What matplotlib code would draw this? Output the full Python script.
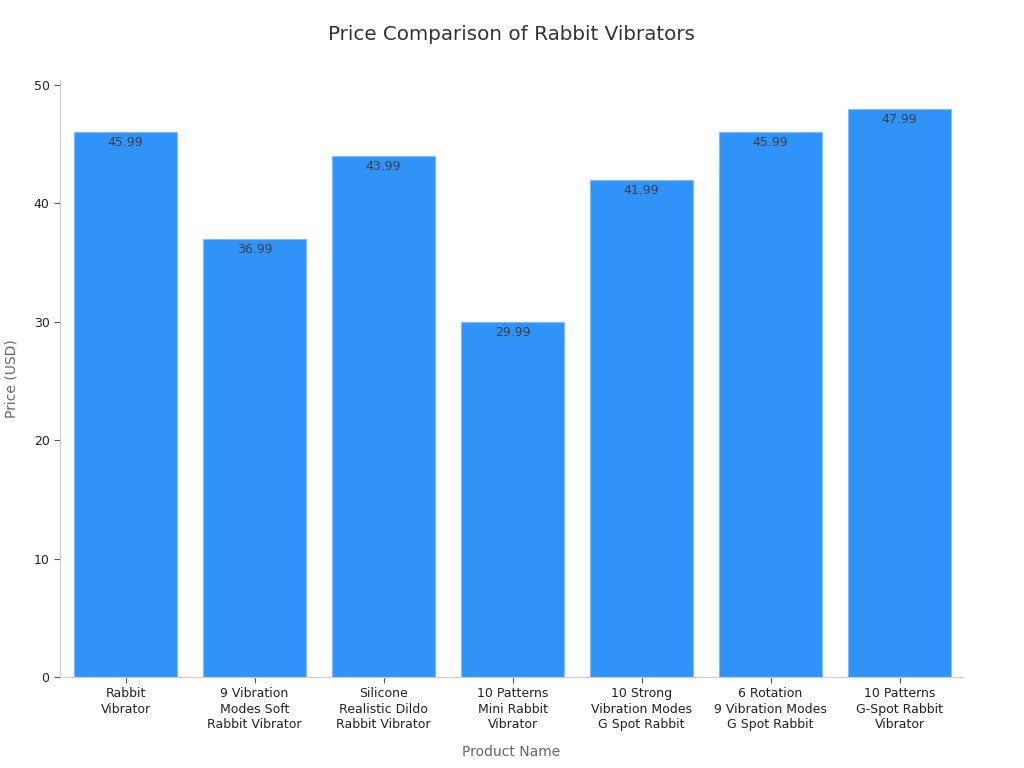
import matplotlib
matplotlib.use('Agg')
import matplotlib.pyplot as plt

# 제품 이름과 가격
products = ['Rabbit\nVibrator', '9 Vibration\nModes Soft\nRabbit Vibrator',
            'Silicone\nRealistic Dildo\nRabbit Vibrator', '10 Patterns\nMini Rabbit\nVibrator',
            '10 Strong\nVibration Modes\nG Spot Rabbit', '6 Rotation\n9 Vibration Modes\nG Spot Rabbit',
            '10 Patterns\nG-Spot Rabbit\nVibrator']
prices = [45.99, 36.99, 43.99, 29.99, 41.99, 45.99, 47.99]
yticks = [0, 10, 20, 30, 40, 50]

fig = plt.figure(figsize=(10.24, 7.68), dpi=100)
ax = fig.add_axes([0.0586, 0.1185, 0.8818, 0.7773])

x = range(len(products))
bars = ax.bar(x, prices, width=0.8, color='#2F93F8', edgecolor='#7DBBF9', linewidth=0.8)
for b, p in zip(bars, prices):
    ax.text(b.get_x() + b.get_width() / 2, p - 0.35, f'{p:.2f}', ha='center', va='top',
            fontsize=9, color='#3a3f47')

ax.set_xlim(-0.508, 6.492)
ax.set_ylim(0, 50.4)
ax.set_yticks(yticks)
ax.set_xticks(list(x))
ax.set_xticklabels(products, fontsize=9, color='#222222', linespacing=1.25)
ax.tick_params(axis='y', labelsize=9, colors='#222222')
ax.tick_params(axis='both', color='#555555', length=4)

for s in ['top', 'right']:
    ax.spines[s].set_visible(False)
for s in ['left', 'bottom']:
    ax.spines[s].set_color('#cccccc')

ax.set_xlabel('Product Name', fontsize=10, color='#666666', labelpad=10)
ax.set_ylabel('Price (USD)', fontsize=10, color='#666666', labelpad=11)
fig.suptitle('Price Comparison of Rabbit Vibrators', fontsize=14.3, color='#333333', y=0.968)

fig.savefig('out.png', dpi=100)
